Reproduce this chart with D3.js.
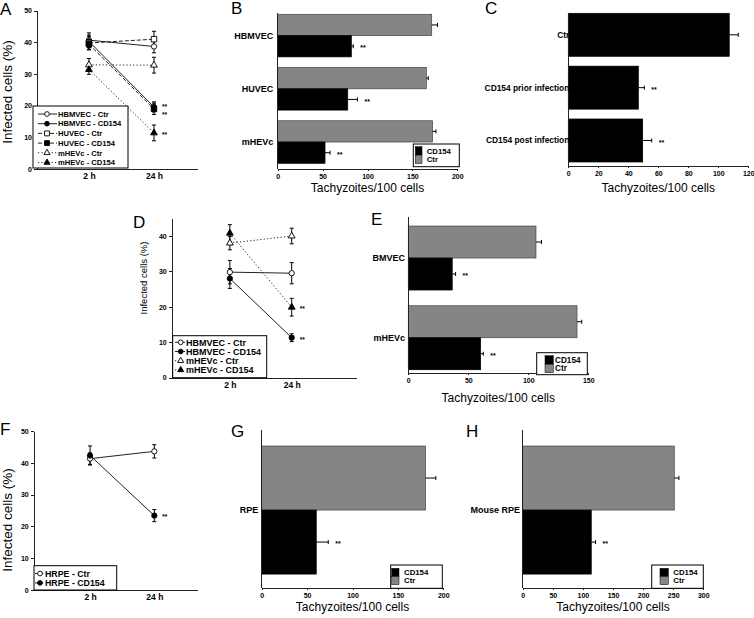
<!DOCTYPE html>
<html>
<head>
<meta charset="utf-8">
<script src="https://cdnjs.cloudflare.com/ajax/libs/d3/7.8.5/d3.min.js"></script>
<style>
  body { margin: 0; background: #fff; }
  svg { display: block; font-family: Arial, "Liberation Sans", sans-serif; }
  .axis path, .axis line { stroke: #222; stroke-width: 1; shape-rendering: crispEdges; }
  .axis text { font-family: "Liberation Sans Narrow", "Arial Narrow", Arial, sans-serif; font-weight: bold; font-size: 7px; fill: #000; }
</style>
</head>
<body>
<svg width="754" height="618"></svg>
<script>
// time points shared by the line panels
const timePoints = ['2 h', '24 h'];

// Panel A - infected cells (%)
const seriesA = ['HBMVEC - Ctr', 'HBMVEC - CD154', 'HUVEC - Ctr', 'HUVEC - CD154', 'mHEVc - Ctr', 'mHEVc - CD154'];
const valuesA = [[40.7, 38.7], [40.3, 19.6], [39.8, 41.0], [39.4, 19.0], [32.9, 32.8], [31.4, 11.4]];
const errorsA = [[2.3, 2.0], [2.0, 1.6], [2.0, 2.5], [1.8, 1.8], [2.0, 2.5], [1.5, 2.5]];
const signifA = [false, true, false, true, false, true];

// Panel B - tachyzoites/100 cells
const cellsB = ['HBMVEC', 'HUVEC', 'mHEVc'];
const ctrB = [171.5, 165.5, 172.5];
const ctrErrB = [6.5, 2.2, 3.7];
const cd154B = [82, 78, 52.7];
const cd154ErrB = [2.2, 10.8, 5.6];

// Panel C
const groupsC = ['Ctr', 'CD154 prior infection', 'CD154 post infection'];
const valuesC = [107.3, 46.7, 49.6];
const errorsC = [6, 4, 6];
const signifC = [false, true, true];

// Panel D
const seriesD = ['HBMVEC - Ctr', 'HBMVEC - CD154', 'mHEVc - Ctr', 'mHEVc - CD154'];
const valuesD = [[29.8, 29.5], [28.0, 11.3], [38.0, 40.0], [40.8, 19.9]];
const errorsD = [[3.3, 3.0], [2.8, 1.1], [1.9, 2.2], [2.4, 2.5]];
const signifD = [false, true, false, true];

// Panel E
const cellsE = ['BMVEC', 'mHEVc'];
const ctrE = [106.4, 140.6];
const ctrErrE = [4.6, 3.9];
const cd154E = [36.6, 60.3];
const cd154ErrE = [2.8, 2.2];

// Panel F
const seriesF = ['HRPE - Ctr', 'HRPE - CD154'];
const valuesF = [[41.3, 43.6], [42.3, 23.4]];
const errorsF = [[1.8, 2.1], [3.0, 1.9]];
const signifF = [false, true];

// Panel G
const cellsG = ['RPE'];
const ctrG = [180.5];
const ctrErrG = [11.3];
const cd154G = [60.1];
const cd154ErrG = [13.2];

// Panel H
const cellsH = ['Mouse RPE'];
const ctrH = [251.8];
const ctrErrH = [7.7];
const cd154H = [113.9];
const cd154ErrH = [7.1];

const svg = d3.select('svg');
const GRAY = '#858585';

function seriesStyle(name) {
  const cell = name.split(' - ')[0];
  const open = name.endsWith('Ctr');
  const shape = cell === 'HUVEC' ? d3.symbolSquare : cell === 'mHEVc' ? d3.symbolTriangle : d3.symbolCircle;
  const size = cell === 'HUVEC' ? 30 : cell === 'mHEVc' ? 20 : 22;
  const dash = cell === 'HUVEC' ? '4,2' : cell === 'mHEVc' ? '1.2,2.2' : null;
  return { shape, size, dash, fill: open ? '#fff' : '#000' };
}

function letter(t, x, y) {
  svg.append('text').attr('x', x).attr('y', y).attr('font-size', 17).text(t);
}

function linePanel(p) {
  const g = svg.append('g');
  const x = d3.scalePoint().domain(timePoints).range([p.left, p.right]).padding(p.pad).align(p.align);
  const y = d3.scaleLinear().domain([0, p.yMax]).range([p.bottom, p.top]);

  const xa = g.append('g').attr('class', 'axis').attr('transform', `translate(0,${p.bottom})`)
    .call(d3.axisBottom(x).tickSize(0).tickPadding(4));
  xa.selectAll('text').style('font-family', 'Arial, "Liberation Sans", sans-serif').style('font-size', '8.5px');
  g.append('g').attr('class', 'axis').attr('transform', `translate(${p.left},0)`)
    .call(d3.axisLeft(y).ticks(5).tickSize(3).tickPadding(2).tickSizeOuter(0));

  const pts = p.series.map((name, i) => timePoints.map((t, j) => ({ x: x(t), v: p.values[i][j], e: p.errors[i][j] })));

  // lines
  p.series.forEach((name, i) => {
    g.append('path')
      .attr('d', d3.line().x(d => d.x).y(d => y(d.v))(pts[i]))
      .attr('fill', 'none').attr('stroke', '#222').attr('stroke-width', 1)
      .attr('stroke-dasharray', seriesStyle(name).dash);
  });
  // error bars
  p.series.forEach((name, i) => {
    pts[i].forEach(d => {
      const y1 = y(d.v - d.e), y2 = y(d.v + d.e);
      g.append('line').attr('x1', d.x).attr('x2', d.x).attr('y1', y1).attr('y2', y2).attr('stroke', '#000');
      [y1, y2].forEach(yy => g.append('line').attr('x1', d.x - 2).attr('x2', d.x + 2).attr('y1', yy).attr('y2', yy).attr('stroke', '#000'));
    });
  });
  // markers + stars
  p.series.forEach((name, i) => {
    const st = seriesStyle(name);
    pts[i].forEach(d => {
      g.append('path').attr('d', d3.symbol(st.shape, st.size)())
        .attr('transform', `translate(${d.x},${y(d.v)})`)
        .attr('fill', st.fill).attr('stroke', '#000').attr('stroke-width', 0.9);
    });
    if (p.signif[i]) {
      const d = pts[i][1];
      g.append('text').attr('x', d.x + p.starDx).attr('y', y(d.v) + (p.starDy ? p.starDy[i] : 0))
        .attr('dy', '0.6em').attr('font-size', 6.5).attr('font-weight', 'bold').text('**');
    }
  });

  // legend
  const L = p.legend;
  g.append('rect').attr('x', L.x).attr('y', L.y).attr('width', L.w).attr('height', L.h)
    .attr('fill', '#fff').attr('stroke', '#000');
  p.series.forEach((name, i) => {
    const st = seriesStyle(name);
    const ry = L.y + L.first + i * L.step;
    g.append('line').attr('x1', L.x + L.l1).attr('x2', L.x + L.l2).attr('y1', ry).attr('y2', ry)
      .attr('stroke', '#222').attr('stroke-dasharray', st.dash);
    g.append('path').attr('d', d3.symbol(st.shape, st.size * 0.8)())
      .attr('transform', `translate(${L.x + L.m},${ry})`)
      .attr('fill', st.fill).attr('stroke', '#000').attr('stroke-width', 0.9);
    g.append('text').attr('x', L.x + L.t).attr('y', ry).attr('dy', '0.36em')
      .attr('font-size', L.font).attr('font-weight', 'bold').text(name);
  });

  // y title
  g.append('text').attr('transform', `translate(${p.titleX},${p.titleY}) rotate(-90)`)
    .attr('text-anchor', 'middle').attr('font-size', p.titleSize).text('Infected cells (%)');
}

function barPanel(p) {
  const g = svg.append('g');
  const x = d3.scaleLinear().domain([0, p.xMax]).range([p.left, p.right]);
  const y = d3.scaleBand().domain(p.cats).range([p.top, p.bottom])
    .paddingInner(p.padIn).paddingOuter(p.padOut).align(p.align);
  const sub = d3.scaleBand().domain(p.series.map(s => s.name)).range([0, y.bandwidth()]);

  p.series.forEach(s => {
    p.cats.forEach((c, k) => {
      const y0 = y(c) + sub(s.name), h = sub.bandwidth(), cy = y0 + h / 2;
      g.append('rect').attr('x', x(0)).attr('y', y0)
        .attr('width', x(s.values[k]) - x(0)).attr('height', h)
        .attr('fill', s.fill).attr('stroke', s.fill === '#000' ? '#000' : '#444').attr('stroke-width', 0.7);
      const xe = x(s.values[k] + s.errors[k]);
      g.append('line').attr('x1', x(s.values[k])).attr('x2', xe).attr('y1', cy).attr('y2', cy).attr('stroke', '#000');
      g.append('line').attr('x1', xe).attr('x2', xe).attr('y1', cy - 2).attr('y2', cy + 2).attr('stroke', '#000');
      if (s.stars[k]) {
        g.append('text').attr('x', xe + 7).attr('y', cy).attr('dy', '0.6em')
          .attr('font-size', 7).attr('font-weight', 'bold').text('**');
      }
    });
  });

  g.append('g').attr('class', 'axis').attr('transform', `translate(0,${p.axisY})`)
    .call(d3.axisBottom(x).ticks(p.ticks).tickSize(2).tickPadding(3).tickSizeOuter(0));
  g.append('line').attr('x1', p.left).attr('x2', p.left).attr('y1', p.top).attr('y2', p.axisY)
    .attr('stroke', '#222').attr('shape-rendering', 'crispEdges');

  p.cats.forEach(c => {
    g.append('text').attr('x', p.left - p.catGap).attr('y', y(c) + y.bandwidth() / 2).attr('dy', '0.35em')
      .attr('text-anchor', 'end').attr('font-size', p.catFont).attr('font-weight', 'bold').text(c);
  });

  g.append('text').attr('x', (p.left + p.right) / 2).attr('y', p.titleY)
    .attr('text-anchor', 'middle').attr('font-size', 12).text('Tachyzoites/100 cells');

  if (p.legend) {
    const L = p.legend;
    g.append('rect').attr('x', L.x).attr('y', L.y).attr('width', L.w).attr('height', L.h)
      .attr('fill', '#fff').attr('stroke', '#000');
    p.series.slice().reverse().forEach((s, i) => {
      const sy = L.y + L.dy + i * L.sh;
      g.append('rect').attr('x', L.x + L.dx).attr('y', sy).attr('width', L.sw).attr('height', L.sh)
        .attr('fill', s.fill).attr('stroke', '#000').attr('stroke-width', 0.5);
      g.append('text').attr('x', L.x + L.tx).attr('y', sy + L.sh / 2).attr('dy', '0.36em')
        .attr('font-size', L.font).attr('font-weight', 'bold').text(s.name);
    });
  }
}

// ---- line panels
linePanel({
  series: seriesA, values: valuesA, errors: errorsA, signif: signifA,
  left: 37, right: 197, top: 10.7, bottom: 169, yMax: 50, pad: 0.73, align: 0.547,
  starDx: 8, starDy: [0, -1.5, 0, 4, 0, 0],
  legend: { x: 33, y: 106, w: 95, h: 62, first: 8, step: 9.7, l1: 5, l2: 24, m: 14, t: 25, font: 7.6 },
  titleX: 12, titleY: 92, titleSize: 13.5
});
linePanel({
  series: seriesD, values: valuesD, errors: errorsD, signif: signifD,
  left: 171.7, right: 356, top: 218.3, bottom: 377.7, yMax: 45, pad: 0.99, align: 0.475,
  starDx: 8,
  legend: { x: 172.7, y: 335.7, w: 94, h: 42, first: 6.6, step: 9.2, l1: 2.3, l2: 12.3, m: 8, t: 13.3, font: 9 },
  titleX: 147, titleY: 278, titleSize: 9.5
});
linePanel({
  series: seriesF, values: valuesF, errors: errorsF, signif: signifF,
  left: 33.7, right: 197, top: 431, bottom: 590, yMax: 50, pad: 0.77, align: 0.569,
  starDx: 8,
  legend: { x: 34, y: 565.7, w: 82.7, h: 24.3, first: 7.8, step: 9.4, l1: 1, l2: 9.3, m: 6, t: 11, font: 8.8 },
  titleX: 12, titleY: 520, titleSize: 13.5
});

// ---- bar panels
const ctrCd = (ctr, ctrErr, cd, cdErr) => [
  { name: 'Ctr', values: ctr, errors: ctrErr, fill: GRAY, stars: ctr.map(() => false) },
  { name: 'CD154', values: cd, errors: cdErr, fill: '#000', stars: cd.map(() => true) }
];

barPanel({
  cats: cellsB, series: ctrCd(ctrB, ctrErrB, cd154B, cd154ErrB),
  left: 277.7, right: 457.3, xMax: 200, ticks: 4, top: 13.3, bottom: 169, axisY: 169,
  padIn: 0.2, padOut: 0.063, align: 0.15, catGap: 4.4, catFont: 9, titleY: 192,
  legend: { x: 413.3, y: 144, w: 46, h: 22.7, dx: 2, dy: 2.7, sw: 6.7, sh: 8.4, tx: 13.4, font: 7.8 }
});
barPanel({
  cats: groupsC,
  series: [{ name: 'CD154', values: valuesC, errors: errorsC, fill: '#000', stars: signifC }],
  left: 568.3, right: 748.3, xMax: 120, ticks: 6, top: 13.3, bottom: 165.7, axisY: 165.7,
  padIn: 0.186, padOut: 0.035, align: 0, catGap: -1, catFont: 8.4, titleY: 192
});
barPanel({
  cats: cellsE, series: ctrCd(ctrE, ctrErrE, cd154E, cd154ErrE),
  left: 408.3, right: 588.3, xMax: 150, ticks: 3, top: 217.3, bottom: 373.3, axisY: 373.3,
  padIn: 0.197, padOut: 0.077, align: 0.71, catGap: 3.3, catFont: 9, titleY: 402,
  legend: { x: 536.7, y: 352.7, w: 50.6, h: 22, dx: 8.3, dy: 3, sw: 8.3, sh: 8.5, tx: 18.3, font: 8.2 }
});
barPanel({
  cats: cellsG, series: ctrCd(ctrG, ctrErrG, cd154G, cd154ErrG),
  left: 261.7, right: 443.3, xMax: 200, ticks: 4, top: 430, bottom: 588.3, axisY: 588.3,
  padIn: 0, padOut: 0.118, align: 0.53, catGap: 3.4, catFont: 9, titleY: 611,
  legend: { x: 390.7, y: 565, w: 51.6, h: 23.3, dx: 1, dy: 3.3, sw: 7.3, sh: 8.2, tx: 13.3, font: 7.8 }
});
barPanel({
  cats: cellsH, series: ctrCd(ctrH, ctrErrH, cd154H, cd154ErrH),
  left: 522.7, right: 703.3, xMax: 300, ticks: 6, top: 430, bottom: 588.3, axisY: 588.3,
  padIn: 0, padOut: 0.118, align: 0.53, catGap: 2.7, catFont: 9, titleY: 611,
  legend: { x: 651.7, y: 565, w: 51.6, h: 23.3, dx: 8.3, dy: 3.3, sw: 8.3, sh: 8.2, tx: 21.6, font: 7.8 }
});

// panel letters
letter('A', 0, 15);
letter('B', 231, 14);
letter('C', 485, 14);
letter('D', 133, 228);
letter('E', 371, 225);
letter('F', 0, 435);
letter('G', 231, 437);
letter('H', 466, 437);
</script>
</body>
</html>
